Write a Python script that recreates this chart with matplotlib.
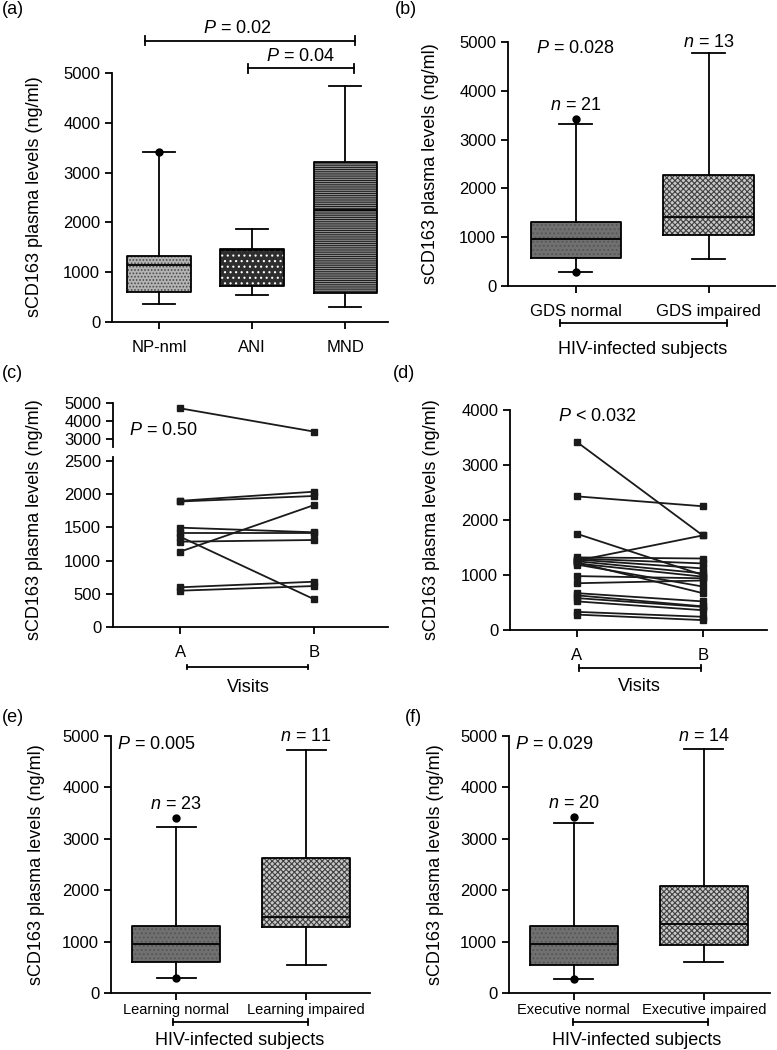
import matplotlib
matplotlib.use('Agg')
import matplotlib.pyplot as plt

plt.rcParams['font.family'] = ['Liberation Sans', 'DejaVu Sans']
plt.rcParams['mathtext.fontset'] = 'custom'
plt.rcParams['mathtext.it'] = 'Liberation Sans:italic'
plt.rcParams['mathtext.rm'] = 'Liberation Sans'
plt.rcParams['hatch.linewidth'] = 0.8

# ---------------- data ----------------
# (a) neurocognitive groups
a_labels = ['NP-nml', 'ANI', 'MND']
a_whislo = [361, 549, 308]
a_q1 = [602, 730, 582]
a_med = [1138, 1440, 2256]
a_q3 = [1332, 1466, 3206]
a_whishi = [3407, 1874, 4732]
a_fliers = [[3420], [], []]

# (b) GDS
b_labels = ['GDS normal', 'GDS impaired']
b_whislo = [288, 548]
b_q1 = [582, 1055]
b_med = [959, 1418]
b_q3 = [1315, 2274]
b_whishi = [3322, 4774]
b_fliers = [[3425, 288], []]
b_n = [21, 13]

# (c) paired visits, first subset
c_visit_a = [4705, 1900, 1890, 1134, 1496, 1420, 1285, 1360, 598, 547]
c_visit_b = [3405, 2038, 1973, 1837, 1426, 1420, 1310, 417, 682, 617]

# (d) paired visits, second subset
d_visit_a = [3420, 2430, 1750, 1260, 1320, 1300, 1280, 1250, 1230, 1210,
             1190, 980, 850, 670, 630, 580, 520, 330, 280]
d_visit_b = [1720, 2250, 1000, 1720, 1300, 1210, 1120, 1030, 670, 970,
             790, 940, 900, 520, 430, 420, 360, 240, 180]

# (e) learning
e_labels = ['Learning normal', 'Learning impaired']
e_whislo = [291, 550]
e_q1 = [602, 1276]
e_med = [958, 1477]
e_q3 = [1308, 2623]
e_whishi = [3225, 4728]
e_fliers = [[3413, 285], []]
e_n = [23, 11]

# (f) executive
f_labels = ['Executive normal', 'Executive impaired']
f_whislo = [278, 602]
f_q1 = [550, 939]
f_med = [952, 1347]
f_q3 = [1308, 2073]
f_whishi = [3316, 4741]
f_fliers = [[3426, 278], []]
f_n = [20, 14]

visits = ['A', 'B']
YLABEL = 'sCD163 plasma levels (ng/ml)'
LW = 1.3
FONT = ['Liberation Sans', 'DejaVu Sans']

# box looks: normal = dark grey, impaired = fine checker
NORMAL_FACE, NORMAL_HATCH, NORMAL_HCOL = '#707070', '....', '#555555'
IMP_FACE, IMP_HATCH, IMP_HCOL = '#c8c8c8', 'xxxxxx', '#404040'

W, H = 777, 1050
fig = plt.figure(figsize=(W / 100, H / 100), dpi=100)


def px_axes(x0, y_top, x1, y_bot):
    return fig.add_axes([x0 / W, 1 - y_bot / H, (x1 - x0) / W, (y_bot - y_top) / H])


def style(ax):
    for s in ('top', 'right'):
        ax.spines[s].set_visible(False)
    for s in ('left', 'bottom'):
        ax.spines[s].set_linewidth(LW)
    ax.tick_params(direction='out', length=5, width=LW, labelsize=12)


def make_stats(whislo, q1, med, q3, whishi, fliers):
    return [dict(whislo=whislo[i], q1=q1[i], med=med[i], q3=q3[i],
                 whishi=whishi[i], fliers=fliers[i]) for i in range(len(med))]


def draw_boxes(ax, stats, faces, hatches, hcols, width=0.68, capw=0.3):
    pos = list(range(len(stats)))
    # fill pass (hatch colour comes from the edge colour)
    for i, st in enumerate(stats):
        ax.bxp([st], positions=[i], widths=width, patch_artist=True,
               showcaps=False, showfliers=False, manage_ticks=False,
               boxprops=dict(facecolor=faces[i], edgecolor=hcols[i],
                             hatch=hatches[i], linewidth=0),
               whiskerprops=dict(linewidth=0), medianprops=dict(linewidth=0))
    # outline pass
    ax.bxp(stats, positions=pos, widths=width, capwidths=capw,
           manage_ticks=False,
           boxprops=dict(color='black', linewidth=LW),
           medianprops=dict(color='black', linewidth=LW),
           whiskerprops=dict(color='black', linewidth=LW),
           capprops=dict(color='black', linewidth=LW),
           flierprops=dict(marker='o', markersize=5, markerfacecolor='black',
                           markeredgecolor='black'))
    ax.set_xticks(pos)


def under_bracket(ax, x0, x1, y, label, label_y, label_x):
    ax.plot([x0, x1], [y, y], color='black', lw=LW,
            transform=ax.get_xaxis_transform(), clip_on=False)
    for xx in (x0, x1):
        ax.plot([xx, xx], [y - 0.012, y + 0.012], color='black', lw=LW,
                transform=ax.get_xaxis_transform(), clip_on=False)
    ax.text(label_x, label_y, label, ha='center', va='center', fontsize=13,
            transform=ax.get_xaxis_transform())


# ---------------- (a) ----------------
ax = px_axes(112, 73, 388, 322)
style(ax)
draw_boxes(ax, make_stats(a_whislo, a_q1, a_med, a_q3, a_whishi, a_fliers),
           faces=['#b4b4b4', '#2e2e2e', '#b0b0b0'],
           hatches=['.....', '...', '---------'],
           hcols=['#4a4a4a', 'white', '#202020'], capw=0.34)
ax.set_xticklabels(a_labels)
ax.set_xlim(-0.505, 2.46)
ax.set_ylim(0, 5000)
ax.set_yticks([0, 1000, 2000, 3000, 4000, 5000])
ax.tick_params(axis='x', pad=8)
# significance brackets
for x0, x1, yb, txt, tx, ty in [(-0.15, 2.11, 5643, r'$\mathit{P}$ = 0.02', 0.84, 5900),
                                (0.96, 2.09, 5100, r'$\mathit{P}$ = 0.04', 1.52, 5340)]:
    ax.plot([x0, x1], [yb, yb], color='black', lw=LW, clip_on=False)
    for xx in (x0, x1):
        ax.plot([xx, xx], [yb - 90, yb + 90], color='black', lw=LW, clip_on=False)
    ax.text(tx, ty, txt, ha='center', va='center', fontsize=13)

# ---------------- (b) ----------------
ax = px_axes(508, 42, 775, 286)
style(ax)
draw_boxes(ax, make_stats(b_whislo, b_q1, b_med, b_q3, b_whishi, b_fliers),
           faces=[NORMAL_FACE, IMP_FACE], hatches=[NORMAL_HATCH, IMP_HATCH],
           hcols=[NORMAL_HCOL, IMP_HCOL], capw=0.25)
ax.set_xticklabels(b_labels)
ax.set_xlim(-0.51, 1.5)
ax.set_ylim(0, 5000)
ax.set_yticks([0, 1000, 2000, 3000, 4000, 5000])
ax.tick_params(axis='x', pad=8)
ax.text(0.0, 4877, r'$\mathit{P}$ = 0.028', ha='center', va='center', fontsize=13)
ax.text(0, 3709, r'$\mathit{n}$ = %d' % b_n[0], ha='center', va='center', fontsize=13)
ax.text(1, 4986, r'$\mathit{n}$ = %d' % b_n[1], ha='center', va='center', fontsize=13)
under_bracket(ax, -0.12, 1.135, -0.152, 'HIV-infected subjects', -0.26, 0.5)

# ---------------- (c) broken axis ----------------
ax_top = px_axes(113, 403, 388, 447)
ax_bot = px_axes(113, 457, 388, 627)
for a in (ax_top, ax_bot):
    style(a)
    for va, vb in zip(c_visit_a, c_visit_b):
        a.plot([0, 1], [va, vb], color='#1a1a1a', lw=LW, marker='s',
               markersize=4)
    a.set_xlim(-0.5, 1.55)
ax_top.spines['bottom'].set_visible(False)
ax_top.set_xticks([])
ax_top.set_ylim(2550, 5000)
ax_top.set_yticks([3000, 4000, 5000])
ax_top.text(-0.38, 3460, r'$\mathit{P}$ = 0.50', ha='left', va='center', fontsize=13)
ax_bot.set_ylim(0, 2560)
ax_bot.set_yticks([0, 500, 1000, 1500, 2000, 2500])
ax_bot.set_xticks([0, 1])
ax_bot.set_xticklabels(visits)
ax_bot.tick_params(axis='x', pad=8)
under_bracket(ax_bot, 0.05, 0.95, -0.235, 'Visits', -0.353, 0.51)

# ---------------- (d) ----------------
ax = px_axes(510, 410, 767, 630)
style(ax)
for va, vb in zip(d_visit_a, d_visit_b):
    ax.plot([0, 1], [va, vb], color='#1a1a1a', lw=LW, marker='s', markersize=4)
ax.set_xlim(-0.53, 1.51)
ax.set_ylim(0, 4000)
ax.set_yticks([0, 1000, 2000, 3000, 4000])
ax.set_xticks([0, 1])
ax.set_xticklabels(visits)
ax.tick_params(axis='x', pad=8)
ax.text(-0.15, 3890, r'$\mathit{P}$ < 0.032', ha='left', va='center', fontsize=13)
under_bracket(ax, 0.02, 0.99, -0.173, 'Visits', -0.259, 0.5)

# ---------------- (e) ----------------
ax = px_axes(111, 736, 370, 993)
style(ax)
draw_boxes(ax, make_stats(e_whislo, e_q1, e_med, e_q3, e_whishi, e_fliers),
           faces=[NORMAL_FACE, IMP_FACE], hatches=[NORMAL_HATCH, IMP_HATCH],
           hcols=[NORMAL_HCOL, IMP_HCOL], capw=0.3)
ax.set_xticklabels(e_labels, fontsize=10.5, fontfamily=FONT)
ax.set_xlim(-0.5, 1.49)
ax.set_ylim(0, 5000)
ax.set_yticks([0, 1000, 2000, 3000, 4000, 5000])
ax.tick_params(axis='x', pad=2)
ax.text(-0.15, 4825, r'$\mathit{P}$ = 0.005', ha='center', va='center', fontsize=13)
ax.text(0, 3677, r'$\mathit{n}$ = %d' % e_n[0], ha='center', va='center', fontsize=13)
ax.text(1, 4987, r'$\mathit{n}$ = %d' % e_n[1], ha='center', va='center', fontsize=13)
under_bracket(ax, -0.02, 1.01, -0.113, 'HIV-infected subjects', -0.183, 0.49)

# ---------------- (f) ----------------
ax = px_axes(509, 736, 770, 993)
style(ax)
draw_boxes(ax, make_stats(f_whislo, f_q1, f_med, f_q3, f_whishi, f_fliers),
           faces=[NORMAL_FACE, IMP_FACE], hatches=[NORMAL_HATCH, IMP_HATCH],
           hcols=[NORMAL_HCOL, IMP_HCOL], capw=0.3)
ax.set_xticklabels(f_labels, fontsize=10.5, fontfamily=FONT)
ax.set_xlim(-0.5, 1.51)
ax.set_ylim(0, 5000)
ax.set_yticks([0, 1000, 2000, 3000, 4000, 5000])
ax.tick_params(axis='x', pad=2)
ax.text(-0.15, 4825, r'$\mathit{P}$ = 0.029', ha='center', va='center', fontsize=13)
ax.text(0, 3696, r'$\mathit{n}$ = %d' % f_n[0], ha='center', va='center', fontsize=13)
ax.text(1, 4987, r'$\mathit{n}$ = %d' % f_n[1], ha='center', va='center', fontsize=13)
under_bracket(ax, -0.01, 1.03, -0.113, 'HIV-infected subjects', -0.183, 0.48)

# ---------------- panel letters & y labels ----------------
for lab, x, y in [('(a)', 2, 10), ('(b)', 395, 10), ('(c)', 2, 373),
                  ('(d)', 393, 373), ('(e)', 2, 717), ('(f)', 405, 717)]:
    fig.text(x / W, 1 - y / H, lab, ha='left', va='center', fontsize=13)
for x, y in [(35, 197), (430, 164), (35, 520), (432, 520), (37, 865), (435, 865)]:
    fig.text(x / W, 1 - y / H, YLABEL, rotation=90, ha='center', va='center',
             fontsize=13)

fig.savefig('out.png', dpi=100)
